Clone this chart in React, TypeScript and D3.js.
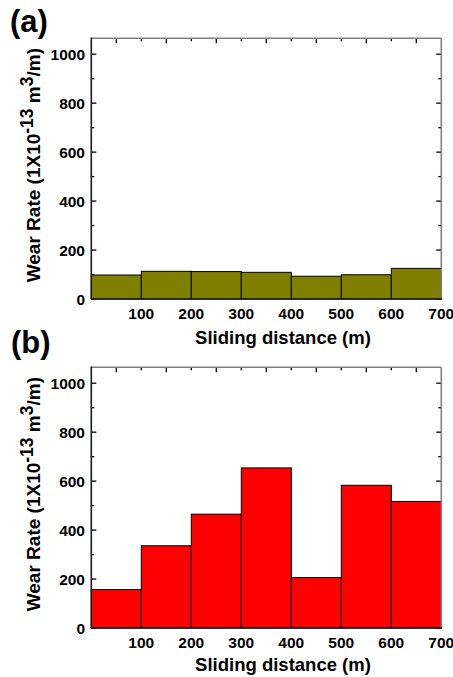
import React from "react";
import * as d3 from "d3";

const binStarts = [0, 100, 200, 300, 400, 500, 600];
const binWidth = 100;
const wearA = [98, 113, 112, 109, 93, 99, 125];
const wearB = [157, 336, 465, 654, 206, 583, 517];
const xTickLabels = [100, 200, 300, 400, 500, 600, 700];
const xTopMajor = [50, 150, 250, 350, 450, 550, 650];
const xTopMinor = [100, 200, 300, 400, 500, 600];
const yMajor = [0, 200, 400, 600, 800, 1000];
const yMinor = [100, 300, 500, 700, 900];

const W = 453;
const H = 677;
const FONT = "'Liberation Sans', Arial, Helvetica, sans-serif";

type PanelProps = {
  top: number;
  bottom: number;
  values: number[];
  fill: string;
  label: string;
  labelX: number;
  labelY: number;
  titleY: number;
};

function Panel({ top, bottom, values, fill, label, labelX, labelY, titleY }: PanelProps) {
  const x = d3.scaleLinear().domain([0, 700]).range([91.3, 441.3]);
  const y = d3.scaleLinear().domain([0, 1065]).range([bottom, top]);
  const x0 = x(0);
  const x1 = x(700);
  const maj = 5;
  const min = 3;
  const tickStroke = "#000";
  const yCenter = (top + bottom) / 2 - 3.5;

  return (
    <g>
      {/* ticks */}
      <g stroke={tickStroke} strokeWidth={1.3}>
        {yMajor.map((v) => (
          <g key={"ym" + v}>
            <line x1={x0} x2={x0 + maj} y1={y(v)} y2={y(v)} />
            <line x1={x1} x2={x1 - maj} y1={y(v)} y2={y(v)} />
          </g>
        ))}
        {yMinor.map((v) => (
          <g key={"yn" + v}>
            <line x1={x0} x2={x0 + min} y1={y(v)} y2={y(v)} />
            <line x1={x1} x2={x1 - min} y1={y(v)} y2={y(v)} />
          </g>
        ))}
        {xTopMajor.map((v) => (
          <g key={"xm" + v}>
            <line x1={x(v)} x2={x(v)} y1={top} y2={top + maj} />
            <line x1={x(v)} x2={x(v)} y1={bottom} y2={bottom - maj} />
          </g>
        ))}
        {xTopMinor.map((v) => (
          <g key={"xn" + v}>
            <line x1={x(v)} x2={x(v)} y1={top} y2={top + min} />
            <line x1={x(v)} x2={x(v)} y1={bottom} y2={bottom - min} />
          </g>
        ))}
      </g>
      {/* bars */}
      {values.map((v, i) => (
        <rect
          key={i}
          x={x(binStarts[i])}
          y={y(v)}
          width={x(binStarts[i] + binWidth) - x(binStarts[i])}
          height={y(0) - y(v)}
          fill={fill}
          stroke="#000"
          strokeWidth={1}
        />
      ))}
      {/* frame */}
      <line x1={x0} x2={x1} y1={top} y2={top} stroke="#808080" strokeWidth={1.6} />
      <line x1={x1} x2={x1} y1={top} y2={bottom} stroke="#808080" strokeWidth={1.6} />
      <line x1={x0} x2={x0} y1={top - 0.8} y2={bottom} stroke="#1a1a1a" strokeWidth={1.6} />
      <line x1={x0} x2={x1 + 0.8} y1={bottom} y2={bottom} stroke="#1a1a1a" strokeWidth={1.6} />
      {/* tick labels */}
      <g fontFamily={FONT} fontWeight="bold" fontSize={15.5} fill="#000">
        {yMajor.map((v) => (
          <text key={"yl" + v} x={85} y={y(v)} dy="0.36em" textAnchor="end">
            {v}
          </text>
        ))}
        {xTickLabels.map((v) => (
          <text key={"xl" + v} x={x(v)} y={bottom + 19.5} textAnchor="middle">
            {v}
          </text>
        ))}
      </g>
      {/* axis titles */}
      <text
        x={283}
        y={titleY}
        textAnchor="middle"
        fontFamily={FONT}
        fontWeight="bold"
        fontSize={18.5}
      >
        Sliding distance (m)
      </text>
      <text
        transform={`translate(40,${yCenter}) rotate(-90)`}
        textAnchor="middle"
        fontFamily={FONT}
        fontWeight="bold"
        fontSize={19}
      >
        <tspan>Wear Rate (1X10</tspan>
        <tspan fontSize={17.5} dy={-7}>-13</tspan>
        <tspan dy={7}> m</tspan>
        <tspan fontSize={17.5} dy={-7}>3</tspan>
        <tspan dy={7}>/m)</tspan>
      </text>
      {/* panel label */}
      <text x={labelX} y={labelY} fontFamily={FONT} fontWeight="bold" fontSize={31}>
        {label}
      </text>
    </g>
  );
}

export default function App() {
  return (
    <svg
      width={W}
      height={H}
      viewBox={`0 0 ${W} ${H}`}
      style={{ position: "absolute", left: 0, top: 0, background: "#fff" }}
    >
      <rect x={0} y={0} width={W} height={H} fill="#fff" />
      <Panel
        top={38.3}
        bottom={299}
        values={wearA}
        fill="#808000"
        label="(a)"
        labelX={10}
        labelY={31.5}
        titleY={344}
      />
      <Panel
        top={367.3}
        bottom={628}
        values={wearB}
        fill="#ff0000"
        label="(b)"
        labelX={11}
        labelY={353}
        titleY={671}
      />
    </svg>
  );
}
